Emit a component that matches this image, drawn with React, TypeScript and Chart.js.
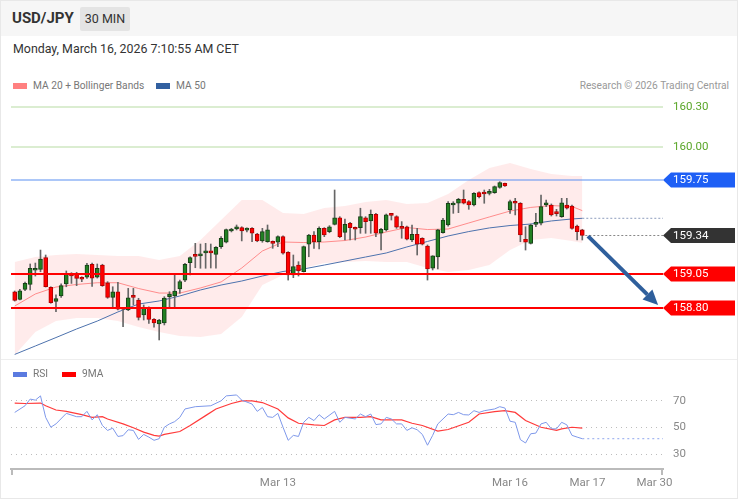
import React, { useEffect, useRef } from "react";
import { Chart, registerables } from "chart.js";

Chart.register(...registerables);

const FONT = "Roboto, 'Liberation Sans', Arial, sans-serif";

// ---------- candle data (30 min, index 0 = first visible bar) ----------
const candleOpen = [
  158.920, 158.863, 158.938, 158.975, 159.080, 159.087, 159.174, 158.953, 158.848, 158.888,
  158.978, 159.050, 159.057, 159.020, 159.028, 159.125, 159.028, 159.119, 158.987, 158.878,
  158.920, 158.796, 158.784, 158.888, 158.858, 158.746, 158.801, 158.714, 158.680, 158.687,
  158.883, 158.888, 158.940, 159.007, 159.137, 159.194, 159.187, 159.210, 159.212, 159.199,
  159.256, 159.289, 159.373, 159.388, 159.398, 159.380, 159.393, 159.351, 159.299, 159.293,
  159.293, 159.289, 159.331, 159.214, 159.045, 159.119, 159.069, 159.274, 159.343, 159.293,
  159.393, 159.368, 159.423, 159.472, 159.363, 159.431, 159.398, 159.398, 159.472, 159.448,
  159.498, 159.356, 159.381, 159.493, 159.480, 159.405, 159.405, 159.306, 159.348, 159.319,
  159.261, 159.095, 159.179, 159.360, 159.418, 159.567, 159.580, 159.610, 159.592, 159.567,
  159.659, 159.650, 159.654, 159.659, 159.699, 159.729, 159.530, 159.585, 159.580, 159.311,
  159.281, 159.423, 159.431, 159.567, 159.567, 159.505, 159.480, 159.567, 159.560, 159.410,
  159.381,
];
const candleHigh = [
  158.925, 158.938, 158.992, 159.127, 159.134, 159.231, 159.194, 158.957, 158.896, 158.978,
  159.075, 159.062, 159.065, 159.032, 159.132, 159.134, 159.127, 159.125, 158.995, 158.957,
  158.990, 158.797, 158.945, 158.945, 158.871, 158.821, 158.808, 158.720, 158.714, 158.883,
  158.920, 159.045, 159.007, 159.132, 159.181, 159.281, 159.276, 159.281, 159.276, 159.256,
  159.331, 159.388, 159.393, 159.418, 159.405, 159.396, 159.398, 159.356, 159.393, 159.418,
  159.299, 159.338, 159.338, 159.219, 159.194, 159.144, 159.261, 159.348, 159.368, 159.405,
  159.398, 159.413, 159.679, 159.480, 159.463, 159.438, 159.403, 159.543, 159.480, 159.530,
  159.505, 159.393, 159.500, 159.500, 159.487, 159.443, 159.410, 159.418, 159.393, 159.323,
  159.269, 159.189, 159.386, 159.468, 159.592, 159.592, 159.617, 159.679, 159.600, 159.659,
  159.666, 159.679, 159.684, 159.709, 159.741, 159.731, 159.604, 159.617, 159.585, 159.405,
  159.425, 159.505, 159.642, 159.604, 159.575, 159.535, 159.617, 159.617, 159.567, 159.418,
  159.386,
];
const candleLow = [
  158.850, 158.858, 158.927, 158.933, 159.037, 159.069, 158.955, 158.834, 158.771, 158.878,
  158.957, 158.982, 158.965, 158.995, 159.020, 158.960, 159.022, 158.960, 158.871, 158.808,
  158.784, 158.659, 158.779, 158.821, 158.709, 158.709, 158.684, 158.655, 158.560, 158.672,
  158.796, 158.796, 158.908, 158.995, 159.045, 159.099, 159.095, 159.095, 159.097, 159.095,
  159.244, 159.284, 159.366, 159.381, 159.299, 159.366, 159.293, 159.293, 159.289, 159.289,
  159.244, 159.256, 159.201, 159.007, 159.025, 159.037, 159.067, 159.181, 159.244, 159.239,
  159.331, 159.360, 159.418, 159.323, 159.306, 159.306, 159.306, 159.356, 159.356, 159.356,
  159.331, 159.231, 159.373, 159.455, 159.393, 159.319, 159.306, 159.293, 159.194, 159.269,
  159.007, 159.082, 159.090, 159.356, 159.410, 159.505, 159.510, 159.575, 159.535, 159.560,
  159.620, 159.580, 159.642, 159.654, 159.692, 159.705, 159.505, 159.493, 159.293, 159.231,
  159.276, 159.405, 159.418, 159.555, 159.485, 159.485, 159.475, 159.537, 159.386, 159.306,
  159.306,
];
const candleClose = [
  158.856, 158.927, 158.982, 159.094, 159.087, 159.164, 158.957, 158.838, 158.868, 158.965,
  159.057, 159.037, 159.020, 159.013, 159.119, 159.022, 159.094, 158.966, 158.878, 158.920,
  158.789, 158.789, 158.875, 158.878, 158.729, 158.801, 158.714, 158.687, 158.709, 158.873,
  158.903, 158.925, 158.995, 159.125, 159.174, 159.184, 159.190, 159.212, 159.210, 159.251,
  159.319, 159.383, 159.383, 159.405, 159.373, 159.381, 159.356, 159.299, 159.368, 159.381,
  159.281, 159.331, 159.207, 159.045, 159.107, 159.075, 159.256, 159.343, 159.293, 159.393,
  159.343, 159.405, 159.472, 159.331, 159.423, 159.398, 159.386, 159.480, 159.443, 159.498,
  159.356, 159.386, 159.493, 159.490, 159.401, 159.393, 159.313, 159.348, 159.274, 159.274,
  159.090, 159.187, 159.381, 159.455, 159.580, 159.570, 159.610, 159.580, 159.567, 159.654,
  159.629, 159.649, 159.666, 159.704, 159.734, 159.709, 159.592, 159.580, 159.343, 159.289,
  159.418, 159.428, 159.555, 159.584, 159.493, 159.503, 159.584, 159.543, 159.393, 159.368,
  159.340,
];

// ---------- indicators read at these bar indices ----------
const bandIndex = [0, 4, 8, 12, 16, 20, 24, 28, 32, 36, 40, 44, 48, 52, 56, 60, 64, 68, 72, 76, 80, 84, 88, 92, 96, 100, 104, 108, 110];
const ma20 = [158.813, 158.903, 158.955, 158.974, 158.987, 158.987, 158.944, 158.910, 158.910, 158.948, 158.993, 159.097, 159.224, 159.291, 159.287, 159.291, 159.302, 159.328, 159.366, 159.399, 159.384, 159.388, 159.433, 159.478, 159.522, 159.549, 159.563, 159.556, 159.525];
const bbUpper = [159.142, 159.179, 159.194, 159.201, 159.194, 159.187, 159.187, 159.157, 159.187, 159.306, 159.455, 159.604, 159.604, 159.507, 159.500, 159.545, 159.560, 159.590, 159.604, 159.575, 159.582, 159.649, 159.754, 159.843, 159.881, 159.836, 159.799, 159.784, 159.784];
const bbLower = [158.448, 158.619, 158.701, 158.724, 158.724, 158.701, 158.657, 158.619, 158.590, 158.582, 158.604, 158.731, 158.970, 159.045, 159.097, 159.134, 159.142, 159.149, 159.142, 159.142, 159.097, 159.067, 159.082, 159.119, 159.231, 159.306, 159.321, 159.299, 159.284];
const ma50 = [158.452, 158.515, 158.578, 158.642, 158.701, 158.769, 158.828, 158.851, 158.888, 158.933, 158.970, 159.000, 159.037, 159.071, 159.090, 159.119, 159.149, 159.179, 159.209, 159.254, 159.295, 159.336, 159.369, 159.396, 159.414, 159.425, 159.448, 159.463, 159.468];

const rsiIndex = [0, 2, 3, 4, 5, 6, 7, 8, 10, 12, 13, 14, 15, 16, 17, 18, 19, 20, 21, 22, 23, 24, 25, 26, 27, 28, 29, 30, 31, 32, 33, 35, 38, 40, 41, 43, 44, 46, 47, 48, 49, 50, 51, 52, 53, 54, 55, 56, 57, 58, 59, 60, 62, 63, 64, 66, 67, 68, 69, 70, 71, 72, 73, 74, 75, 76, 77, 78, 79, 80, 81, 82, 84, 85, 86, 87, 88, 89, 90, 91, 93, 94, 95, 96, 97, 98, 99, 100, 101, 102, 103, 104, 105, 106, 107, 108, 109, 110];
const rsiValues = [61.3, 66.3, 71.3, 70.5, 73.7, 57.6, 50.2, 52.7, 60.6, 58.1, 58.1, 62.1, 55.7, 59.6, 51.5, 47.8, 49.5, 43.3, 43.9, 48.3, 47.8, 41.1, 44.8, 42.8, 40.4, 41.6, 50.2, 52.7, 54.4, 57.6, 63.9, 65.6, 66.3, 70, 73.7, 74.4, 70.5, 67.6, 62.1, 65, 58.1, 57.6, 60.6, 50.2, 40.4, 44.1, 43.3, 53.9, 57.6, 55.2, 59.6, 56.4, 62.1, 53.9, 57.6, 56.4, 60.1, 58.1, 60.1, 52.2, 52.7, 57.6, 56.4, 52.7, 52.7, 47.8, 49.8, 48.3, 44.8, 36.7, 44.1, 52.7, 60.1, 59.6, 61.3, 59.6, 59.4, 62.6, 61.3, 62.6, 63.9, 65.6, 64.6, 54.7, 53.9, 40.9, 38.4, 45.3, 45.8, 52.7, 53.9, 49, 49, 53.9, 52, 44.1, 42.8, 41.6];
const rsiMaIndex = [0, 2, 5, 6, 8, 10, 13, 15, 17, 18, 21, 23, 25, 27, 28, 29, 32, 34, 37, 39, 42, 44, 46, 48, 51, 53, 55, 58, 60, 62, 64, 67, 69, 71, 75, 77, 79, 82, 84, 88, 90, 93, 95, 97, 99, 102, 105, 106, 108, 110];
const rsiMaValues = [68.3, 68, 68.3, 66.3, 63.1, 62.1, 59.6, 57.6, 58.1, 56.4, 52.7, 49.8, 46.5, 44.1, 43.6, 44.8, 47, 51.5, 58.9, 63.9, 68, 70, 70, 68.7, 63.9, 57.2, 53.2, 52, 51.5, 55.7, 57.6, 57.6, 58.1, 55.7, 55.7, 53.2, 51.5, 47.3, 48.5, 53.9, 60.1, 61.9, 62.6, 61.3, 55.2, 50.2, 47.8, 49, 50.2, 49.5];

// ---------- levels, arrow, axes ----------
const levelValues = [160.3, 160.0, 159.75, 159.34, 159.05, 158.8];
const levelLabels = ["160.30", "160.00", "159.75", "159.34", "159.05", "158.80"];
const arrowStart = [111.1, 159.335];
const arrowEnd = [124.7, 158.82];
const xTickIndex = [51, 96, 111, 124];
const xTickLabels = ["Mar 13", "Mar 16", "Mar 17", "Mar 30"];
const rsiTicks = [30, 50, 70];

const X_MIN = -0.717;
const X_MAX = 125.64;
const PRICE_MIN = 158.4254;
const PRICE_MAX = 160.388;
const RSI_MIN = 18.89;
const RSI_MAX = 81.11;

const levelStyles = [
  { line: "#b7dca4", width: 1.2, kind: "text", color: "#5aa629" },
  { line: "#b7dca4", width: 1.2, kind: "text", color: "#5aa629" },
  { line: "#5b8ff2", width: 1.2, kind: "tag", color: "#1e5ff5" },
  { line: "#888888", width: 1, kind: "tag", color: "#333333", dash: [2, 2], fromLast: true },
  { line: "#ff0000", width: 2, kind: "tag", color: "#ff0000" },
  { line: "#ff0000", width: 2, kind: "tag", color: "#ff0000" },
];

const levelPlugin = {
  id: "levels",
  afterDatasetsDraw(chart: any) {
    const { ctx, chartArea, scales } = chart;
    const ys = scales.y;
    const xs = scales.x;
    ctx.save();
    levelValues.forEach((v, i) => {
      const st: any = levelStyles[i];
      let y = Math.round(ys.getPixelForValue(v));
      if (st.width === 1) y += 0.5;
      const x0 = st.fromLast ? xs.getPixelForValue(candleClose.length - 1) + 3 : chartArea.left;
      ctx.beginPath();
      ctx.setLineDash(st.dash || []);
      ctx.strokeStyle = st.line;
      ctx.lineWidth = st.width;
      ctx.moveTo(x0, y);
      ctx.lineTo(chartArea.right, y);
      ctx.stroke();
      ctx.setLineDash([]);
      const tx = chartArea.right;
      ctx.font = `11.5px ${FONT}`;
      ctx.textBaseline = "middle";
      ctx.textAlign = "left";
      if (st.kind === "tag") {
        const h = 15, tip = 8, w = 72;
        ctx.fillStyle = st.color;
        ctx.beginPath();
        ctx.moveTo(tx, y);
        ctx.lineTo(tx + tip, y - h / 2);
        ctx.lineTo(tx + w, y - h / 2);
        ctx.lineTo(tx + w, y + h / 2);
        ctx.lineTo(tx + tip, y + h / 2);
        ctx.closePath();
        ctx.fill();
        ctx.fillStyle = "#ffffff";
      } else {
        ctx.fillStyle = st.color;
      }
      ctx.fillText(levelLabels[i], tx + 10, y + 0.5);
    });
    ctx.restore();
  },
};

const arrowPlugin = {
  id: "arrow",
  afterDatasetsDraw(chart: any) {
    const { ctx } = chart;
    const xs = chart.scales.x;
    const ys = chart.scales.y;
    const x0 = xs.getPixelForValue(arrowStart[0]);
    const y0 = ys.getPixelForValue(arrowStart[1]);
    const x1 = xs.getPixelForValue(arrowEnd[0]);
    const y1 = ys.getPixelForValue(arrowEnd[1]);
    const ang = Math.atan2(y1 - y0, x1 - x0);
    const headLen = 15, headW = 7;
    const bx = x1 - headLen * Math.cos(ang);
    const by = y1 - headLen * Math.sin(ang);
    ctx.save();
    ctx.strokeStyle = "#2f5f9c";
    ctx.fillStyle = "#2f5f9c";
    ctx.lineWidth = 4;
    ctx.beginPath();
    ctx.moveTo(x0, y0);
    ctx.lineTo(bx, by);
    ctx.stroke();
    ctx.beginPath();
    ctx.moveTo(x1, y1);
    ctx.lineTo(bx + headW * Math.sin(ang), by - headW * Math.cos(ang));
    ctx.lineTo(bx - headW * Math.sin(ang), by + headW * Math.cos(ang));
    ctx.closePath();
    ctx.fill();
    ctx.restore();
  },
};

const axisEndsPlugin = {
  id: "axisEnds",
  afterDraw(chart: any) {
    const { ctx, chartArea } = chart;
    ctx.save();
    ctx.strokeStyle = "#bbbbbb";
    ctx.lineWidth = 2;
    [chartArea.left + 1, chartArea.right - 1].forEach((x: number) => {
      ctx.beginPath();
      ctx.moveTo(x, chartArea.bottom);
      ctx.lineTo(x, chartArea.bottom + 6);
      ctx.stroke();
    });
    ctx.restore();
  },
};

const pts = (xs: number[], ys: number[]) => xs.map((x, i) => ({ x, y: ys[i] }));

export default function App() {
  const priceRef = useRef<HTMLCanvasElement>(null);
  const rsiRef = useRef<HTMLCanvasElement>(null);

  useEffect(() => {
    Chart.defaults.font.family = FONT;
    const up = candleClose.map((c, i) => c >= candleOpen[i]);
    const lastIdx = candleClose.length - 1;

    const priceChart = new Chart(priceRef.current as HTMLCanvasElement, {
      type: "line",
      data: {
        datasets: [
          {
            type: "line",
            data: pts(bandIndex, bbUpper),
            borderWidth: 0,
            borderColor: "rgba(0,0,0,0)",
            pointRadius: 0,
            fill: "+1",
            backgroundColor: "rgba(255,110,110,0.14)",
            order: 10,
          },
          {
            type: "line",
            data: pts(bandIndex, bbLower),
            borderWidth: 0,
            borderColor: "rgba(0,0,0,0)",
            pointRadius: 0,
            fill: false,
            order: 10,
          },
          {
            type: "line",
            data: pts(bandIndex, ma20),
            borderWidth: 1,
            borderColor: "rgba(255,100,100,0.7)",
            pointRadius: 0,
            fill: false,
            order: 6,
          },
          {
            type: "line",
            data: pts(bandIndex, ma50),
            borderWidth: 1,
            borderColor: "#4d72ad",
            pointRadius: 0,
            fill: false,
            order: 6,
          },
          {
            type: "line",
            data: [
              { x: lastIdx, y: ma50[ma50.length - 1] },
              { x: X_MAX, y: ma50[ma50.length - 1] },
            ],
            borderWidth: 1,
            borderDash: [2, 2],
            borderColor: "#8d9dbd",
            pointRadius: 0,
            fill: false,
            order: 6,
          },
          {
            type: "bar",
            data: candleLow.map((l, i) => ({ x: i, y: [l, candleHigh[i]] })),
            backgroundColor: "#666666",
            barThickness: 1,
            grouped: false,
            order: 4,
          } as any,
          {
            type: "bar",
            data: candleOpen.map((o, i) => ({ x: i, y: [o, candleClose[i]] })),
            backgroundColor: up.map((u) => (u ? "#228022" : "#ff0000")),
            borderColor: up.map((u) => (u ? "#173f17" : "#b00000")),
            borderWidth: 1,
            borderSkipped: false,
            barThickness: 4,
            minBarLength: 2,
            grouped: false,
            order: 3,
          } as any,
        ],
      },
      options: {
        responsive: false,
        animation: false,
        events: [],
        layout: { padding: { left: 11, right: 75, top: 0, bottom: 0 } },
        plugins: { legend: { display: false }, tooltip: { enabled: false } },
        scales: {
          x: { type: "linear", min: X_MIN, max: X_MAX, display: false, offset: false },
          y: { type: "linear", min: PRICE_MIN, max: PRICE_MAX, display: false },
        },
      },
      plugins: [levelPlugin, arrowPlugin],
    } as any);

    const rsiChart = new Chart(rsiRef.current as HTMLCanvasElement, {
      type: "line",
      data: {
        datasets: [
          {
            data: pts(rsiIndex, rsiValues),
            borderColor: "#7e98ea",
            borderWidth: 1,
            pointRadius: 0,
            fill: false,
          },
          {
            data: [
              { x: rsiIndex[rsiIndex.length - 1], y: rsiValues[rsiValues.length - 1] },
              { x: X_MAX, y: rsiValues[rsiValues.length - 1] },
            ],
            borderColor: "#8fa6ee",
            borderWidth: 1,
            borderDash: [2, 3],
            pointRadius: 0,
            fill: false,
          },
          {
            data: pts(rsiMaIndex, rsiMaValues),
            borderColor: "#ff3b3b",
            borderWidth: 1.2,
            pointRadius: 0,
            fill: false,
          },
        ],
      },
      options: {
        responsive: false,
        animation: false,
        events: [],
        layout: { padding: { left: 11, right: 0, top: 25, bottom: 0 } },
        plugins: { legend: { display: false }, tooltip: { enabled: false } },
        scales: {
          x: {
            type: "linear",
            min: X_MIN,
            max: X_MAX,
            offset: false,
            grid: { display: false, drawTicks: false },
            border: { display: true, color: "#bbbbbb", width: 2 },
            afterBuildTicks: (s: any) => {
              s.ticks = xTickIndex.map((v) => ({ value: v }));
            },
            afterFit: (s: any) => {
              s.height = 31;
            },
            ticks: {
              autoSkip: false,
              maxRotation: 0,
              padding: 7,
              color: "#888888",
              font: { size: 11.5 },
              callback: (_v: any, i: number) => xTickLabels[i],
            },
          },
          y: {
            type: "linear",
            position: "right",
            min: RSI_MIN,
            max: RSI_MAX,
            grid: { color: "#bdbdbd", drawTicks: false, lineWidth: 1 },
            border: { display: false, dash: [1, 4] },
            afterBuildTicks: (s: any) => {
              s.ticks = rsiTicks.map((v) => ({ value: v }));
            },
            afterFit: (s: any) => {
              s.width = 75;
            },
            ticks: {
              padding: 10,
              color: "#888888",
              font: { size: 11.5 },
            },
          },
        },
      },
      plugins: [axisEndsPlugin],
    } as any);

    return () => {
      priceChart.destroy();
      rsiChart.destroy();
    };
  }, []);

  const legendText: React.CSSProperties = { fontSize: 10.2, color: "#777", position: "absolute", lineHeight: "12px" };

  return (
    <div
      style={{
        position: "absolute",
        left: 0,
        top: 0,
        width: 738,
        height: 500,
        background: "#ffffff",
        fontFamily: FONT,
        overflow: "hidden",
      }}
    >
      <div style={{ position: "absolute", left: 0, top: 0, width: 738, height: 36, background: "#f6f6f6" }} />
      <div style={{ position: "absolute", left: 12, top: 9, fontSize: 15, fontWeight: 700, color: "#333", lineHeight: "18px" }}>
        USD/JPY
      </div>
      <div
        style={{
          position: "absolute",
          left: 80,
          top: 7,
          width: 50,
          height: 24,
          background: "#e4e4e4",
          borderRadius: 2,
          fontSize: 12.5,
          color: "#333",
          lineHeight: "24px",
          textAlign: "center",
        }}
      >
        30 MIN
      </div>
      <div style={{ position: "absolute", left: 13, top: 41, fontSize: 12.4, color: "#333", lineHeight: "15px" }}>
        Monday, March 16, 2026 7:10:55 AM CET
      </div>

      <div style={{ position: "absolute", left: 13, top: 83, width: 14, height: 6, background: "#ff8080" }} />
      <div style={{ ...legendText, left: 33, top: 80 }}>MA 20 + Bollinger Bands</div>
      <div style={{ position: "absolute", left: 156, top: 83, width: 14, height: 6, background: "#3260a0" }} />
      <div style={{ ...legendText, left: 176, top: 80 }}>MA 50</div>
      <div style={{ ...legendText, right: 9, top: 80, color: "#999" }}>Research © 2026 Trading Central</div>

      <canvas
        ref={priceRef}
        width={738}
        height={263}
        style={{ position: "absolute", left: 0, top: 95, width: 738, height: 263, display: "block" }}
      />

      <div style={{ position: "absolute", left: 0, top: 359, width: 738, height: 1, background: "#eeeeee" }} />

      <canvas
        ref={rsiRef}
        width={738}
        height={139}
        style={{ position: "absolute", left: 0, top: 361, width: 738, height: 139, display: "block" }}
      />
      <div style={{ position: "absolute", left: 13, top: 372, width: 14, height: 5, background: "#5b7be0" }} />
      <div style={{ ...legendText, left: 33, top: 368 }}>RSI</div>
      <div style={{ position: "absolute", left: 62, top: 372, width: 14, height: 5, background: "#ff0000" }} />
      <div style={{ ...legendText, left: 82, top: 368 }}>9MA</div>

      <div
        style={{
          position: "absolute",
          left: 0,
          top: 0,
          width: 738,
          height: 499,
          boxSizing: "border-box",
          border: "1px solid #e8e8e8",
          pointerEvents: "none",
        }}
      />
    </div>
  );
}
